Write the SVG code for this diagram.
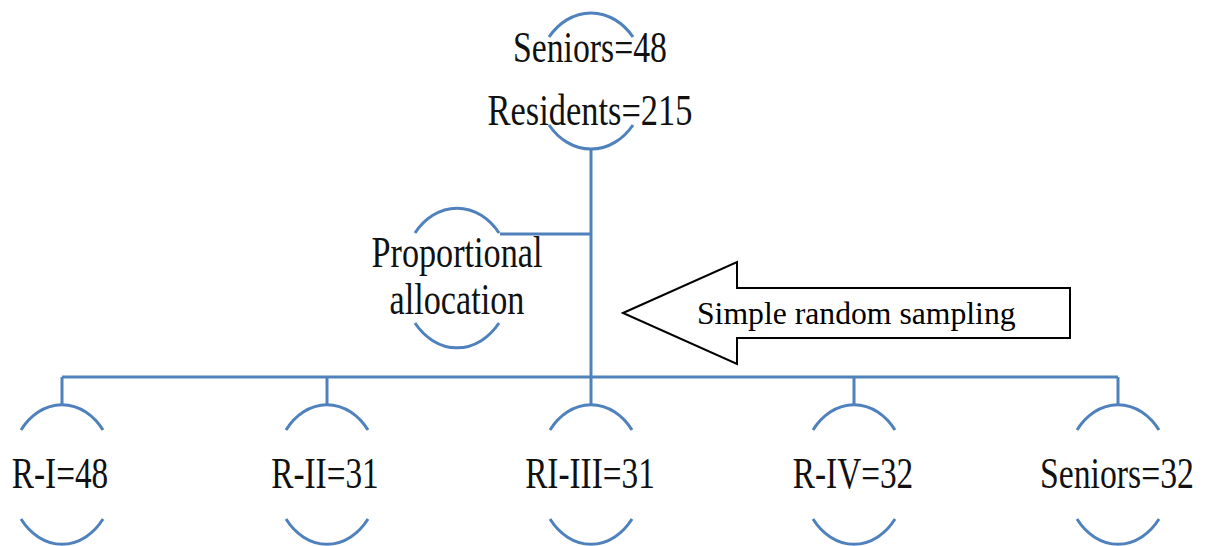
<svg xmlns="http://www.w3.org/2000/svg" width="1209" height="546" viewBox="0 0 1209 546">
  <style>
    .ln { fill: none; stroke: #4f81bd; stroke-width: 3; }
    .lbl { font-family: "Liberation Serif", "Times New Roman", serif; font-size: 45px; fill: #111; text-anchor: middle; }
    .arrow { fill: #fff; stroke: #000; stroke-width: 2; stroke-linejoin: miter; }
    .arrowtxt { font-family: "Liberation Serif", "Times New Roman", serif; font-size: 31.7px; fill: #000; }
  </style>
  <rect width="1209" height="546" fill="#fff"/>

  <!-- connectors -->
  <g id="connectors" class="ln">
    <path d="M591 149 V377"/>
    <path d="M500 234 H591"/>
    <path d="M62 377 H1118"/>
    <path d="M62 377 V405"/>
    <path d="M327 377 V405"/>
    <path d="M591 377 V405"/>
    <path d="M854 377 V405"/>
    <path d="M1118 377 V405"/>
  </g>

  <!-- root -->
  <g id="node-root">
    <path class="ln" d="M549 37 A55 68 0 0 1 633 37"/>
    <path class="ln" d="M549 125 A55 68 0 0 0 633 125"/>
    <text class="lbl" transform="translate(590 62) scale(0.75 1)">Seniors=48</text>
    <text class="lbl" transform="translate(590 125) scale(0.765 1)">Residents=215</text>
  </g>

  <!-- allocation step -->
  <g id="node-allocation">
    <path class="ln" d="M415 233 A55 70 0 0 1 499 233"/>
    <path class="ln" d="M415 323 A55 70 0 0 0 499 323"/>
    <text class="lbl" transform="translate(457 267) scale(0.76 1)">Proportional</text>
    <text class="lbl" transform="translate(457 314) scale(0.76 1)">allocation</text>
  </g>

  <!-- sampling arrow -->
  <g id="node-sampling">
    <polygon class="arrow" points="623,313 737,262 737,288 1070,288 1070,338 737,338 737,364"/>
    <text class="arrowtxt" x="697" y="324">Simple random sampling</text>
  </g>

  <!-- strata -->
  <g id="node-r1">
    <path class="ln" d="M21 430 A53 69 0 0 1 103 430"/>
    <path class="ln" d="M21 519 A53 69 0 0 0 103 519"/>
    <text class="lbl" transform="translate(60 488) scale(0.74 1)">R-I=48</text>
  </g>
  <g id="node-r2">
    <path class="ln" d="M286 430 A53 69 0 0 1 368 430"/>
    <path class="ln" d="M286 519 A53 69 0 0 0 368 519"/>
    <text class="lbl" transform="translate(325 488) scale(0.74 1)">R-II=31</text>
  </g>
  <g id="node-r3">
    <path class="ln" d="M550 430 A53 69 0 0 1 632 430"/>
    <path class="ln" d="M550 519 A53 69 0 0 0 632 519"/>
    <text class="lbl" transform="translate(590 488) scale(0.74 1)">RI-III=31</text>
  </g>
  <g id="node-r4">
    <path class="ln" d="M813 430 A53 69 0 0 1 895 430"/>
    <path class="ln" d="M813 519 A53 69 0 0 0 895 519"/>
    <text class="lbl" transform="translate(853 488) scale(0.74 1)">R-IV=32</text>
  </g>
  <g id="node-seniors">
    <path class="ln" d="M1077 430 A53 69 0 0 1 1159 430"/>
    <path class="ln" d="M1077 519 A53 69 0 0 0 1159 519"/>
    <text class="lbl" transform="translate(1117 488) scale(0.75 1)">Seniors=32</text>
  </g>
</svg>
